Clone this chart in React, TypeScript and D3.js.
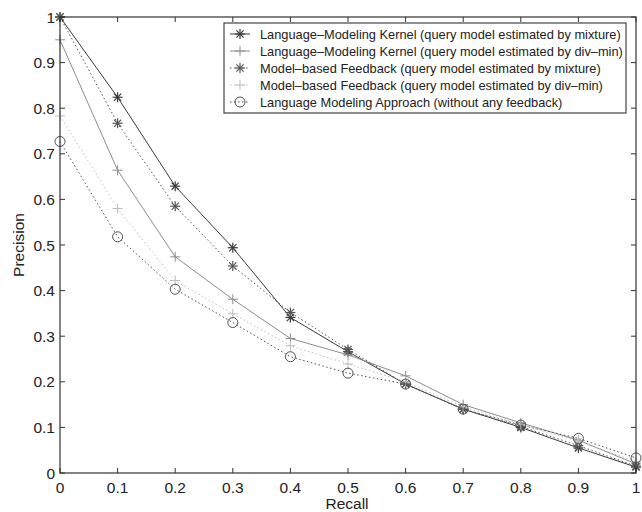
import React from "react";
import * as d3 from "d3";

const recall = [0, 0.1, 0.2, 0.3, 0.4, 0.5, 0.6, 0.7, 0.8, 0.9, 1.0];
const lmkMixture = [1.0, 0.824, 0.629, 0.494, 0.341, 0.266, 0.195, 0.14, 0.1, 0.055, 0.013];
const lmkDivMin = [0.95, 0.664, 0.474, 0.381, 0.295, 0.259, 0.213, 0.15, 0.11, 0.072, 0.02];
const mbfMixture = [1.0, 0.767, 0.585, 0.454, 0.352, 0.271, 0.195, 0.14, 0.102, 0.06, 0.015];
const mbfDivMin = [0.783, 0.58, 0.422, 0.349, 0.279, 0.239, 0.2, 0.145, 0.106, 0.07, 0.025];
const lmApproach = [0.727, 0.518, 0.403, 0.33, 0.255, 0.219, 0.195, 0.14, 0.105, 0.076, 0.033];

const xTicks = [0, 0.1, 0.2, 0.3, 0.4, 0.5, 0.6, 0.7, 0.8, 0.9, 1];
const yTicks = [0, 0.1, 0.2, 0.3, 0.4, 0.5, 0.6, 0.7, 0.8, 0.9, 1];

const seriesNames = [
  "Language\u2013Modeling Kernel (query model estimated by mixture)",
  "Language\u2013Modeling Kernel (query model estimated by div\u2013min)",
  "Model\u2013based Feedback (query model estimated by mixture)",
  "Model\u2013based Feedback (query model estimated by div\u2013min)",
  "Language Modeling Approach (without any feedback)",
];

type Marker = "star" | "plus" | "circle";
const series: { name: string; values: number[]; color: string; dash: string; marker: Marker }[] = [
  { name: seriesNames[0], values: lmkMixture, color: "#3a3a3a", dash: "none", marker: "star" },
  { name: seriesNames[1], values: lmkDivMin, color: "#8c8c8c", dash: "none", marker: "plus" },
  { name: seriesNames[2], values: mbfMixture, color: "#555555", dash: "1.5,2.5", marker: "star" },
  { name: seriesNames[3], values: mbfDivMin, color: "#bdbdbd", dash: "1.5,2.5", marker: "plus" },
  { name: seriesNames[4], values: lmApproach, color: "#505050", dash: "1.5,2.5", marker: "circle" },
];

const W = 642;
const H = 512;
const left = 60;
const right = 636;
const top = 17;
const bottom = 473;
const FONT = "'Liberation Sans', Arial, Helvetica, sans-serif";

function MarkerShape({ type, x, y, color }: { type: Marker; x: number; y: number; color: string }) {
  const r = 5;
  if (type === "circle") {
    return <circle cx={x} cy={y} r={r} fill="none" stroke={color} strokeWidth={1} />;
  }
  if (type === "plus") {
    return (
      <g stroke={color} strokeWidth={1}>
        <line x1={x - r} y1={y} x2={x + r} y2={y} />
        <line x1={x} y1={y - r} x2={x} y2={y + r} />
      </g>
    );
  }
  const d = r * 0.72;
  return (
    <g stroke={color} strokeWidth={1.2}>
      <line x1={x - r} y1={y} x2={x + r} y2={y} />
      <line x1={x} y1={y - r} x2={x} y2={y + r} />
      <line x1={x - d} y1={y - d} x2={x + d} y2={y + d} />
      <line x1={x - d} y1={y + d} x2={x + d} y2={y - d} />
    </g>
  );
}

export default function App() {
  const xs = d3.scaleLinear().domain([0, 1]).range([left, right]);
  const ys = d3.scaleLinear().domain([0, 1]).range([bottom, top]);
  const line = d3
    .line<number>()
    .x((_, i) => xs(recall[i]))
    .y((v) => ys(v));

  const legX = 224;
  const legY = 23;
  const legW = 402;
  const legH = 90;
  const rowH = 17;

  return (
    <svg width={W} height={H} style={{ position: "absolute", left: 0, top: 0, background: "#fff" }} fontFamily={FONT}>
      <rect x={0} y={0} width={W} height={H} fill="#fff" />
      {series.map((s, si) => (
        <g key={si}>
          <path d={line(s.values) || ""} fill="none" stroke={s.color} strokeWidth={1} strokeDasharray={s.dash} />
          {s.values.map((v, i) => (
            <MarkerShape key={i} type={s.marker} x={xs(recall[i])} y={ys(v)} color={s.color} />
          ))}
        </g>
      ))}
      <rect x={left} y={top} width={right - left} height={bottom - top} fill="none" stroke="#333" strokeWidth={1.2} />
      {xTicks.map((t, i) => (
        <g key={"x" + i}>
          <line x1={xs(t)} x2={xs(t)} y1={bottom} y2={bottom - 5} stroke="#333" />
          <line x1={xs(t)} x2={xs(t)} y1={top} y2={top + 5} stroke="#333" />
          <text x={xs(t)} y={bottom + 20} fontSize={15.5} textAnchor="middle" fill="#222">
            {d3.format("")(t)}
          </text>
        </g>
      ))}
      {yTicks.map((t, i) => (
        <g key={"y" + i}>
          <line x1={left} x2={left + 5} y1={ys(t)} y2={ys(t)} stroke="#333" />
          <line x1={right} x2={right - 5} y1={ys(t)} y2={ys(t)} stroke="#333" />
          <text x={left - 5} y={ys(t) + 5.5} fontSize={15.5} textAnchor="end" fill="#222">
            {d3.format("")(t)}
          </text>
        </g>
      ))}
      <text x={(left + right) / 2 - 1} y={509} fontSize={15.5} textAnchor="middle" fill="#222">
        Recall
      </text>
      <text transform={`translate(24,${(top + bottom) / 2}) rotate(-90)`} fontSize={15.5} textAnchor="middle" fill="#222">
        Precision
      </text>
      <rect x={legX} y={legY} width={legW} height={legH} fill="#fff" stroke="#444" strokeWidth={1.2} />
      {series.map((s, i) => {
        const cy = legY + 11 + i * rowH;
        return (
          <g key={"l" + i}>
            <line x1={legX + 6} x2={legX + 26} y1={cy} y2={cy} stroke={s.color} strokeWidth={1} strokeDasharray={s.dash} />
            <MarkerShape type={s.marker} x={legX + 16} y={cy} color={s.color} />
            <text x={legX + 36} y={cy + 4.5} fontSize={12.8} fill="#222">
              {s.name}
            </text>
          </g>
        );
      })}
    </svg>
  );
}
